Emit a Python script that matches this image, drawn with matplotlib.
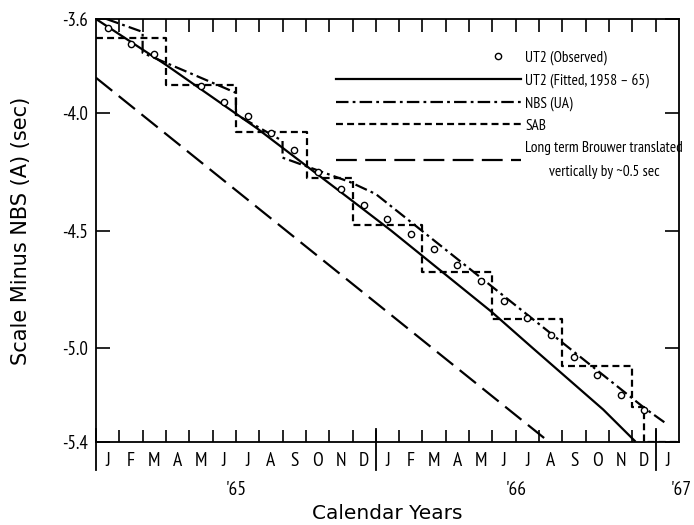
import os
import numpy as np
import matplotlib
matplotlib.use('Agg')
import matplotlib.pyplot as plt
from matplotlib import font_manager
from matplotlib.lines import Line2D
from matplotlib.legend_handler import HandlerTuple

# x values are months counted from 1 Jan 1965
obs_m = [0.5, 1.5, 2.5, 4.5, 5.5, 6.5, 7.5, 8.5, 9.5, 10.5, 11.5,
         12.5, 13.5, 14.5, 15.5, 16.5, 17.5, 18.5, 19.5, 20.5, 21.5, 22.5, 23.5]
obs_v = [-3.637, -3.705, -3.748, -3.883, -3.952, -4.013, -4.085, -4.159, -4.252, -4.322, -4.393,
         -4.449, -4.513, -4.577, -4.648, -4.717, -4.798, -4.873, -4.945, -5.037, -5.115, -5.200, -5.264]

fit_m = [0, 3.0, 6.9, 10.9, 12.65, 16.95, 18.7, 21.75, 23.1]
fit_v = [-3.60, -3.795, -4.065, -4.367, -4.50, -4.845, -4.998, -5.262, -5.395]

nbs_m = [0.45, 2.0, 2.0, 6.0, 6.0, 8.0, 8.0, 10.9, 12.0, 23.54, 24.4]
nbs_v = [-3.60, -3.655, -3.744, -3.914, -4.006, -4.119, -4.190, -4.294, -4.345, -5.257, -5.318]

sab_m = [0, 3, 6, 9.05, 11, 14, 17, 20, 23, 23.5, 25]
sab_v = [-3.68, -3.88, -4.08, -4.275, -4.475, -4.675, -4.875, -5.077, -5.25, -5.398, -5.398]

brouwer_m = [0, 19.43]
brouwer_v = [-3.85, -5.40]

months = ['J', 'F', 'M', 'A', 'M', 'J', 'J', 'A', 'S', 'O', 'N', 'D'] * 2 + ['J']
years = ["'65", "'66", "'67"]
year_pos = [6, 18, 25.1]
yticks = [-3.6, -4.0, -4.5, -5.0, -5.4]
ytick_labels = ['-3.6', '-4.0', '-4.5', '-5.0', '-5.4']


def narrow(size):
    # a regular narrow face if there is one, otherwise plain Liberation Sans a bit smaller
    for f in font_manager.fontManager.ttflist:
        base = os.path.basename(f.fname)
        if 'Narrow' in base and 'Regular' in base:
            return font_manager.FontProperties(fname=f.fname, size=size)
    return font_manager.FontProperties(family='Liberation Sans', size=size * 0.82)


plt.rcParams['lines.scale_dashes'] = False

fig = plt.figure(figsize=(6.94, 5.25), dpi=100)
ax = fig.add_axes([0.1383, 0.1581, 0.8401, 0.8057])

obs, = ax.plot(obs_m, obs_v, 'o', mfc='white', mec='black', ms=4.5, mew=1.0, zorder=5)
fit, = ax.plot(fit_m, fit_v, '-', color='black', lw=1.6)
nbs, = ax.plot(nbs_m, nbs_v, color='black', lw=1.6, dashes=(9, 3, 2, 3))
sab, = ax.plot(sab_m, sab_v, color='black', lw=1.6, dashes=(5, 3), drawstyle='steps-post')
brw, = ax.plot(brouwer_m, brouwer_v, color='black', lw=1.6, dashes=(15, 6))

ax.set_xlim(0, 25)
ax.set_ylim(-5.4, -3.6)

ax.set_xticks(range(1, 25))
ax.set_xticklabels([])
ax.tick_params(axis='x', direction='in', length=9, width=1.2, top=True, bottom=True)
ax.set_yticks(yticks)
ax.set_yticklabels(ytick_labels, fontproperties=narrow(13.5))
ax.tick_params(axis='y', direction='in', length=10, width=1.2, right=True, pad=6)
for s in ax.spines.values():
    s.set_linewidth(1.3)

# year dividers and left edge run down through the month row
for xd in [0, 12, 24]:
    ax.axvline(xd, ymin=-0.066, ymax=0.03, color='black', lw=1.3, clip_on=False)

tr = ax.get_xaxis_transform()
for i, m in enumerate(months):
    ax.text(i + 0.5, -0.045, m, transform=tr, ha='center', va='center', fontproperties=narrow(14))
for x, y in zip(year_pos, years):
    ax.text(x, -0.113, y, transform=tr, ha='center', va='center', fontproperties=narrow(14))

ax.set_xlabel('Calendar Years', fontsize=14.5)
ax.xaxis.set_label_coords(0.5, -0.147)
ax.set_ylabel('Scale Minus NBS (A) (sec)', fontsize=15)
ax.yaxis.set_label_coords(-0.112, 0.5)

# observed marker sits at the right end of its legend key
blank = Line2D([], [], linestyle='none')
handles = [(blank, blank, blank, obs), fit, nbs, sab, brw]
labels = ['UT2 (Observed)', 'UT2 (Fitted, 1958 – 65)', 'NBS (UA)', 'SAB',
          'Long term Brouwer translated\nvertically by ~0.5 sec']
leg = ax.legend(handles, labels, loc='upper left', bbox_to_anchor=(0.412, 0.926), frameon=False,
                prop=narrow(11), handlelength=12.1, handletextpad=0.26, labelspacing=0.53,
                borderpad=0, borderaxespad=0, handler_map={tuple: HandlerTuple(ndivide=None, pad=0)})
for t in leg.get_texts():
    t.set_multialignment('center')
    t.set_linespacing(1.95)

fig.savefig('out.png', dpi=100)
